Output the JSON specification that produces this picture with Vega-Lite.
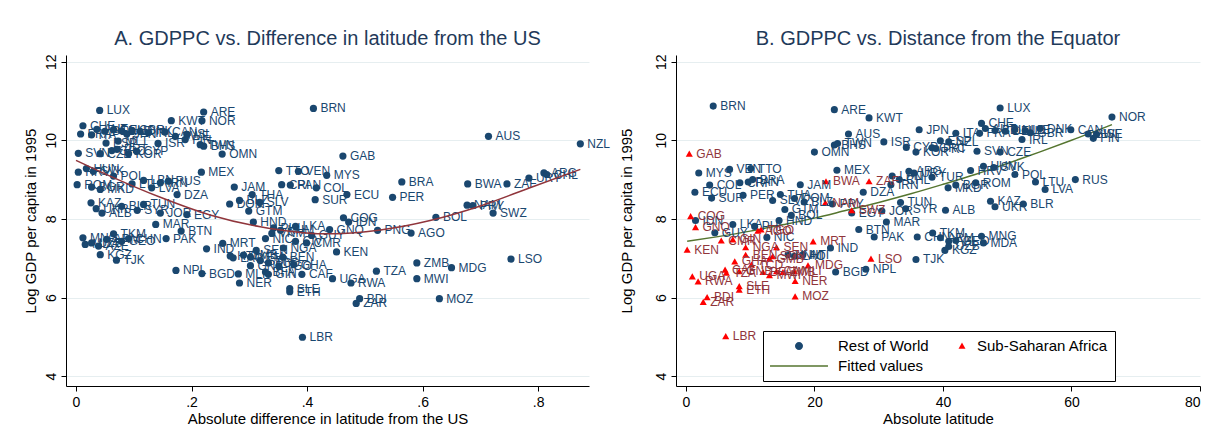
{
  "$schema": "https://vega.github.io/schema/vega-lite/v6.json",
  "background": "white",
  "padding": {"left": 23, "top": 28, "right": 5, "bottom": 5},
  "bounds": "flush",
  "spacing": 87,
  "config": {
    "font": "Liberation Sans",
    "view": {"stroke": null},
    "axis": {
      "domainColor": "black", "tickColor": "black", "labelColor": "black", "titleColor": "black",
      "labelFont": "Liberation Sans", "titleFont": "Liberation Sans",
      "labelFontSize": 14, "titleFontSize": 15, "titleFontWeight": "normal",
      "tickSize": 5, "gridColor": "#e6eef0", "gridWidth": 1
    },
    "title": {"fontSize": 20, "fontWeight": "normal", "color": "#1f3a5a", "offset": 5, "font": "Liberation Sans"}
  },
  "datasets": {
    "left": [
      {"c":"LUX","x":0.041,"y":10.76},{"c":"CHE","x":0.012,"y":10.37},{"c":"KWT","x":0.165,"y":10.50},
      {"c":"ARE","x":0.221,"y":10.72},{"c":"NOR","x":0.218,"y":10.50},{"c":"BRN","x":0.411,"y":10.81},
      {"c":"AUS","x":0.714,"y":10.10},{"c":"NZL","x":0.873,"y":9.91},{"c":"CAN","x":0.154,"y":10.21},
      {"c":"FRA","x":0.008,"y":10.16},{"c":"ITA","x":0.027,"y":10.14},{"c":"AUT","x":0.036,"y":10.28},
      {"c":"BEL","x":0.050,"y":10.23},{"c":"DEU","x":0.065,"y":10.27},{"c":"NLD","x":0.079,"y":10.24},
      {"c":"JPN","x":0.088,"y":10.16},{"c":"GBR","x":0.097,"y":10.25},{"c":"DNK","x":0.111,"y":10.23},
      {"c":"IRL","x":0.125,"y":10.19},{"c":"ESP","x":0.052,"y":9.93},{"c":"MLT","x":0.073,"y":9.98},
      {"c":"ISR","x":0.142,"y":9.92},{"c":"GRC","x":0.062,"y":9.74},{"c":"PRT","x":0.071,"y":9.77},
      {"c":"SVN","x":0.004,"y":9.67},{"c":"CZE","x":0.042,"y":9.66},{"c":"KOR","x":0.091,"y":9.66},
      {"c":"CYP","x":0.105,"y":9.72},{"c":"SWE","x":0.172,"y":10.10},{"c":"FIN","x":0.189,"y":10.02},
      {"c":"ISL","x":0.192,"y":10.15},{"c":"TWN","x":0.215,"y":9.89},{"c":"BHS","x":0.221,"y":9.85},
      {"c":"OMN","x":0.253,"y":9.65},{"c":"HRV","x":0.004,"y":9.19},{"c":"HUN","x":0.018,"y":9.28},
      {"c":"SVK","x":0.030,"y":9.21},{"c":"POL","x":0.065,"y":9.09},{"c":"ROM","x":0.002,"y":8.87},
      {"c":"BGR","x":0.027,"y":8.81},{"c":"MKD","x":0.042,"y":8.75},{"c":"LTU","x":0.097,"y":8.89},
      {"c":"LBN","x":0.117,"y":8.98},{"c":"LVA","x":0.131,"y":8.79},{"c":"IRN","x":0.146,"y":8.92},
      {"c":"RUS","x":0.160,"y":8.96},{"c":"DZA","x":0.175,"y":8.62},{"c":"KAZ","x":0.026,"y":8.41},
      {"c":"UKR","x":0.035,"y":8.26},{"c":"ALB","x":0.045,"y":8.15},{"c":"BLR","x":0.079,"y":8.32},
      {"c":"SYR","x":0.106,"y":8.22},{"c":"TUN","x":0.117,"y":8.37},{"c":"JOR","x":0.146,"y":8.15},
      {"c":"EGY","x":0.192,"y":8.11},{"c":"MAR","x":0.138,"y":7.86},{"c":"BTN","x":0.182,"y":7.69},
      {"c":"MEX","x":0.217,"y":9.19},{"c":"JAM","x":0.274,"y":8.81},{"c":"THA","x":0.305,"y":8.62},
      {"c":"BLZ","x":0.283,"y":8.47},{"c":"DOM","x":0.266,"y":8.38},{"c":"SLV","x":0.318,"y":8.42},
      {"c":"GTM","x":0.299,"y":8.20},{"c":"HND","x":0.307,"y":7.92},{"c":"TTO","x":0.351,"y":9.23},
      {"c":"VEN","x":0.385,"y":9.21},{"c":"MYS","x":0.434,"y":9.11},{"c":"CRI","x":0.356,"y":8.87},
      {"c":"PAN","x":0.371,"y":8.86},{"c":"COL","x":0.416,"y":8.79},{"c":"SUR","x":0.414,"y":8.49},
      {"c":"ECU","x":0.469,"y":8.62},{"c":"BRA","x":0.564,"y":8.94},{"c":"PER","x":0.548,"y":8.55},
      {"c":"BWA","x":0.678,"y":8.89},{"c":"ZAF","x":0.746,"y":8.89},{"c":"URY","x":0.784,"y":9.04},
      {"c":"ARG","x":0.810,"y":9.17},{"c":"CHL","x":0.815,"y":9.13},{"c":"NAM","x":0.677,"y":8.35},
      {"c":"PRY","x":0.687,"y":8.34},{"c":"SWZ","x":0.722,"y":8.15},{"c":"BOL","x":0.623,"y":8.04},
      {"c":"GAB","x":0.462,"y":9.60},{"c":"COG","x":0.463,"y":8.03},{"c":"IDN","x":0.472,"y":7.92},
      {"c":"LKA","x":0.380,"y":7.81},{"c":"GNQ","x":0.439,"y":7.73},{"c":"PNG","x":0.522,"y":7.71},
      {"c":"AGO","x":0.580,"y":7.64},{"c":"GUY","x":0.408,"y":7.58},{"c":"PHL","x":0.342,"y":7.77},
      {"c":"VNM","x":0.339,"y":7.63},{"c":"KHM","x":0.354,"y":7.71},{"c":"CIV","x":0.380,"y":7.43},
      {"c":"NIC","x":0.328,"y":7.50},{"c":"NGA","x":0.359,"y":7.26},{"c":"CMR","x":0.399,"y":7.39},
      {"c":"KEN","x":0.451,"y":7.16},{"c":"BEN","x":0.358,"y":7.03},{"c":"GHA","x":0.377,"y":6.84},
      {"c":"SEN","x":0.312,"y":7.20},{"c":"MRT","x":0.254,"y":7.38},{"c":"IND","x":0.226,"y":7.24},
      {"c":"HTI","x":0.267,"y":7.06},{"c":"LAO","x":0.272,"y":7.01},{"c":"GMB","x":0.290,"y":7.08},
      {"c":"YEM","x":0.302,"y":7.03},{"c":"SDN","x":0.319,"y":6.94},{"c":"TCD","x":0.333,"y":6.88},
      {"c":"GNB","x":0.302,"y":6.81},{"c":"MLI","x":0.281,"y":6.60},{"c":"BFA","x":0.328,"y":6.65},
      {"c":"GIN","x":0.333,"y":6.59},{"c":"TGO","x":0.351,"y":6.80},{"c":"CAF","x":0.391,"y":6.59},
      {"c":"UGA","x":0.444,"y":6.48},{"c":"NER","x":0.283,"y":6.37},{"c":"RWA","x":0.476,"y":6.37},
      {"c":"TZA","x":0.520,"y":6.67},{"c":"SLE","x":0.370,"y":6.23},{"c":"ETH","x":0.370,"y":6.15},
      {"c":"BDI","x":0.491,"y":5.97},{"c":"ZAR","x":0.485,"y":5.85},{"c":"LBR","x":0.392,"y":4.99},
      {"c":"ZMB","x":0.590,"y":6.88},{"c":"MDG","x":0.650,"y":6.76},{"c":"LSO","x":0.753,"y":6.98},
      {"c":"MWI","x":0.590,"y":6.48},{"c":"MOZ","x":0.629,"y":5.97},{"c":"MNG","x":0.012,"y":7.52},
      {"c":"MDA","x":0.016,"y":7.35},{"c":"UZB","x":0.027,"y":7.39},{"c":"AZE","x":0.039,"y":7.31},
      {"c":"ARM","x":0.053,"y":7.48},{"c":"TKM","x":0.065,"y":7.62},{"c":"GEO","x":0.079,"y":7.43},
      {"c":"CHN","x":0.091,"y":7.50},{"c":"KGZ","x":0.042,"y":7.09},{"c":"TJK","x":0.070,"y":6.95},
      {"c":"PAK","x":0.156,"y":7.50},{"c":"NPL","x":0.173,"y":6.69},{"c":"BGD","x":0.218,"y":6.61}
    ],
    "right": [
      {"c":"BRN","x":4.25,"y":10.87,"g":"Rest of World"},{"c":"ARE","x":23.1,"y":10.78,"g":"Rest of World"},
      {"c":"KWT","x":28.5,"y":10.57,"g":"Rest of World"},{"c":"AUS","x":25.3,"y":10.16,"g":"Rest of World"},
      {"c":"ISR","x":30.8,"y":9.96,"g":"Rest of World"},{"c":"BHS","x":23.1,"y":9.88,"g":"Rest of World"},
      {"c":"TWN","x":23.6,"y":9.92,"g":"Rest of World"},{"c":"OMN","x":20.0,"y":9.70,"g":"Rest of World"},
      {"c":"JPN","x":36.3,"y":10.27,"g":"Rest of World"},{"c":"CYP","x":34.3,"y":9.82,"g":"Rest of World"},
      {"c":"KOR","x":35.8,"y":9.70,"g":"Rest of World"},{"c":"MEX","x":23.5,"y":9.24,"g":"Rest of World"},
      {"c":"VEN","x":6.8,"y":9.26,"g":"Rest of World"},{"c":"TTO","x":10.1,"y":9.28,"g":"Rest of World"},
      {"c":"MYS","x":2.0,"y":9.17,"g":"Rest of World"},{"c":"JAM","x":17.8,"y":8.87,"g":"Rest of World"},
      {"c":"ECU","x":1.4,"y":8.68,"g":"Rest of World"},{"c":"COL","x":3.7,"y":8.86,"g":"Rest of World"},
      {"c":"CRI","x":8.4,"y":8.92,"g":"Rest of World"},{"c":"PAN","x":9.7,"y":8.94,"g":"Rest of World"},
      {"c":"BRA","x":10.4,"y":9.00,"g":"Rest of World"},{"c":"SUR","x":4.0,"y":8.53,"g":"Rest of World"},
      {"c":"PER","x":8.9,"y":8.60,"g":"Rest of World"},{"c":"THA","x":14.7,"y":8.62,"g":"Rest of World"},
      {"c":"SLV","x":13.5,"y":8.47,"g":"Rest of World"},{"c":"DOM","x":16.9,"y":8.52,"g":"Rest of World"},
      {"c":"BLZ","x":18.4,"y":8.43,"g":"Rest of World"},{"c":"GTM","x":15.4,"y":8.24,"g":"Rest of World"},
      {"c":"BOL","x":16.4,"y":8.09,"g":"Rest of World"},{"c":"HND","x":14.5,"y":7.96,"g":"Rest of World"},
      {"c":"PRY","x":22.8,"y":8.38,"g":"Rest of World"},{"c":"DZA","x":27.6,"y":8.68,"g":"Rest of World"},
      {"c":"EGY","x":25.8,"y":8.15,"g":"Rest of World"},{"c":"JOR","x":30.5,"y":8.20,"g":"Rest of World"},
      {"c":"MAR","x":31.2,"y":7.92,"g":"Rest of World"},{"c":"BTN","x":26.9,"y":7.73,"g":"Rest of World"},
      {"c":"PAK","x":29.3,"y":7.54,"g":"Rest of World"},{"c":"IDN","x":1.5,"y":7.96,"g":"Rest of World"},
      {"c":"LKA","x":7.3,"y":7.86,"g":"Rest of World"},{"c":"PHL","x":10.7,"y":7.81,"g":"Rest of World"},
      {"c":"GUY","x":4.5,"y":7.65,"g":"Rest of World"},{"c":"NIC","x":12.6,"y":7.53,"g":"Rest of World"},
      {"c":"IND","x":22.5,"y":7.26,"g":"Rest of World"},{"c":"BGD","x":23.3,"y":6.65,"g":"Rest of World"},
      {"c":"NPL","x":28.0,"y":6.72,"g":"Rest of World"},{"c":"LUX","x":48.9,"y":10.82,"g":"Rest of World"},
      {"c":"CHE","x":46.0,"y":10.43,"g":"Rest of World"},{"c":"NOR","x":66.3,"y":10.59,"g":"Rest of World"},
      {"c":"ESP","x":39.6,"y":9.99,"g":"Rest of World"},{"c":"NZL","x":40.9,"y":9.96,"g":"Rest of World"},
      {"c":"GRC","x":38.3,"y":9.81,"g":"Rest of World"},{"c":"PRT","x":38.9,"y":9.79,"g":"Rest of World"},
      {"c":"ITA","x":42.0,"y":10.18,"g":"Rest of World"},{"c":"FRA","x":45.7,"y":10.18,"g":"Rest of World"},
      {"c":"AUT","x":46.6,"y":10.30,"g":"Rest of World"},{"c":"BEL","x":48.1,"y":10.25,"g":"Rest of World"},
      {"c":"DEU","x":49.7,"y":10.23,"g":"Rest of World"},{"c":"NLD","x":51.2,"y":10.27,"g":"Rest of World"},
      {"c":"LIE","x":52.8,"y":10.25,"g":"Rest of World"},{"c":"GBR","x":53.6,"y":10.19,"g":"Rest of World"},
      {"c":"DNK","x":55.1,"y":10.30,"g":"Rest of World"},{"c":"IRL","x":52.3,"y":10.02,"g":"Rest of World"},
      {"c":"CAN","x":59.9,"y":10.27,"g":"Rest of World"},{"c":"SWE","x":62.6,"y":10.16,"g":"Rest of World"},
      {"c":"FIN","x":63.4,"y":10.05,"g":"Rest of World"},{"c":"ISL","x":63.9,"y":10.15,"g":"Rest of World"},
      {"c":"SVN","x":45.3,"y":9.72,"g":"Rest of World"},{"c":"CZE","x":48.9,"y":9.70,"g":"Rest of World"},
      {"c":"HUN","x":46.3,"y":9.34,"g":"Rest of World"},{"c":"SVK","x":47.9,"y":9.31,"g":"Rest of World"},
      {"c":"HRV","x":44.3,"y":9.23,"g":"Rest of World"},{"c":"POL","x":51.2,"y":9.13,"g":"Rest of World"},
      {"c":"LTU","x":54.4,"y":8.94,"g":"Rest of World"},{"c":"RUS","x":60.6,"y":9.00,"g":"Rest of World"},
      {"c":"LVA","x":55.9,"y":8.75,"g":"Rest of World"},{"c":"ROM","x":45.1,"y":8.92,"g":"Rest of World"},
      {"c":"BGR","x":42.0,"y":8.86,"g":"Rest of World"},{"c":"MKD","x":40.8,"y":8.79,"g":"Rest of World"},
      {"c":"TUR","x":38.3,"y":9.06,"g":"Rest of World"},{"c":"ARG","x":34.7,"y":9.21,"g":"Rest of World"},
      {"c":"URY","x":35.5,"y":9.17,"g":"Rest of World"},{"c":"LBN","x":32.1,"y":9.09,"g":"Rest of World"},
      {"c":"CHL","x":33.2,"y":9.00,"g":"Rest of World"},{"c":"IRN","x":31.9,"y":8.87,"g":"Rest of World"},
      {"c":"TUN","x":33.4,"y":8.42,"g":"Rest of World"},{"c":"SYR","x":34.2,"y":8.26,"g":"Rest of World"},
      {"c":"ALB","x":40.4,"y":8.22,"g":"Rest of World"},{"c":"KAZ","x":47.4,"y":8.45,"g":"Rest of World"},
      {"c":"UKR","x":48.1,"y":8.31,"g":"Rest of World"},{"c":"BLR","x":52.5,"y":8.38,"g":"Rest of World"},
      {"c":"CHN","x":36.0,"y":7.54,"g":"Rest of World"},{"c":"TKM","x":38.4,"y":7.64,"g":"Rest of World"},
      {"c":"ARM","x":39.6,"y":7.52,"g":"Rest of World"},{"c":"AZE","x":40.9,"y":7.43,"g":"Rest of World"},
      {"c":"UZB","x":40.9,"y":7.30,"g":"Rest of World"},{"c":"GEO","x":42.0,"y":7.45,"g":"Rest of World"},
      {"c":"MNG","x":46.0,"y":7.56,"g":"Rest of World"},{"c":"MDA","x":46.3,"y":7.39,"g":"Rest of World"},
      {"c":"KGZ","x":40.3,"y":7.20,"g":"Rest of World"},{"c":"TJK","x":35.8,"y":6.97,"g":"Rest of World"},
      {"c":"VNM","x":15.9,"y":7.09,"g":"Rest of World"},{"c":"LAO","x":16.9,"y":7.05,"g":"Rest of World"},
      {"c":"HTI","x":18.2,"y":7.09,"g":"Rest of World"},
      {"c":"GAB","x":0.53,"y":9.66,"g":"Sub-Saharan Africa"},{"c":"BWA","x":21.8,"y":8.96,"g":"Sub-Saharan Africa"},
      {"c":"ZAF","x":28.5,"y":8.96,"g":"Sub-Saharan Africa"},{"c":"NAM","x":21.7,"y":8.41,"g":"Sub-Saharan Africa"},
      {"c":"SWZ","x":25.8,"y":8.22,"g":"Sub-Saharan Africa"},{"c":"LSO","x":28.8,"y":6.99,"g":"Sub-Saharan Africa"},
      {"c":"COG","x":0.74,"y":8.07,"g":"Sub-Saharan Africa"},{"c":"GNQ","x":1.5,"y":7.79,"g":"Sub-Saharan Africa"},
      {"c":"AGO","x":11.2,"y":7.70,"g":"Sub-Saharan Africa"},{"c":"TGO","x":11.7,"y":7.73,"g":"Sub-Saharan Africa"},
      {"c":"KEN","x":0.2,"y":7.22,"g":"Sub-Saharan Africa"},{"c":"CMR","x":5.5,"y":7.45,"g":"Sub-Saharan Africa"},
      {"c":"GIN","x":7.3,"y":7.48,"g":"Sub-Saharan Africa"},{"c":"NGA","x":9.3,"y":7.28,"g":"Sub-Saharan Africa"},
      {"c":"SEN","x":14.1,"y":7.28,"g":"Sub-Saharan Africa"},{"c":"MRT","x":19.8,"y":7.43,"g":"Sub-Saharan Africa"},
      {"c":"BEN","x":9.3,"y":7.09,"g":"Sub-Saharan Africa"},{"c":"GHA","x":7.6,"y":6.92,"g":"Sub-Saharan Africa"},
      {"c":"TCD","x":10.2,"y":6.84,"g":"Sub-Saharan Africa"},{"c":"GMB","x":13.0,"y":6.99,"g":"Sub-Saharan Africa"},
      {"c":"SDN","x":13.5,"y":7.05,"g":"Sub-Saharan Africa"},{"c":"MDG","x":19.0,"y":6.82,"g":"Sub-Saharan Africa"},
      {"c":"CAF","x":6.1,"y":6.71,"g":"Sub-Saharan Africa"},{"c":"TZA","x":6.3,"y":6.63,"g":"Sub-Saharan Africa"},
      {"c":"GNB","x":8.3,"y":6.67,"g":"Sub-Saharan Africa"},{"c":"BFA","x":12.0,"y":6.65,"g":"Sub-Saharan Africa"},
      {"c":"MWI","x":13.0,"y":6.57,"g":"Sub-Saharan Africa"},{"c":"ZMB","x":15.1,"y":6.65,"g":"Sub-Saharan Africa"},
      {"c":"MLI","x":16.9,"y":6.67,"g":"Sub-Saharan Africa"},{"c":"CIV","x":14.1,"y":6.67,"g":"Sub-Saharan Africa"},
      {"c":"NER","x":17.0,"y":6.42,"g":"Sub-Saharan Africa"},{"c":"UGA","x":1.0,"y":6.54,"g":"Sub-Saharan Africa"},
      {"c":"RWA","x":1.9,"y":6.41,"g":"Sub-Saharan Africa"},{"c":"SLE","x":8.3,"y":6.29,"g":"Sub-Saharan Africa"},
      {"c":"ETH","x":8.3,"y":6.20,"g":"Sub-Saharan Africa"},{"c":"MOZ","x":17.0,"y":6.03,"g":"Sub-Saharan Africa"},
      {"c":"BDI","x":3.3,"y":6.01,"g":"Sub-Saharan Africa"},{"c":"ZAR","x":2.7,"y":5.89,"g":"Sub-Saharan Africa"},
      {"c":"LBR","x":6.2,"y":5.02,"g":"Sub-Saharan Africa"}
    ],
    "lfit": [
      {"x":0.0,"y":9.49},{"x":0.059,"y":9.09},{"x":0.146,"y":8.55},{"x":0.232,"y":8.10},
      {"x":0.319,"y":7.80},{"x":0.43,"y":7.62},{"x":0.527,"y":7.72},{"x":0.613,"y":7.96},
      {"x":0.70,"y":8.33},{"x":0.787,"y":8.80},{"x":0.873,"y":9.26}
    ],
    "rfit": [
      {"x":0.2,"y":7.43},{"x":5,"y":7.55},{"x":10,"y":7.69},{"x":15,"y":7.85},{"x":20,"y":8.02},
      {"x":25,"y":8.22},{"x":30,"y":8.42},{"x":35,"y":8.64},{"x":40,"y":8.88},{"x":45,"y":9.13},
      {"x":50,"y":9.41},{"x":55,"y":9.70},{"x":60,"y":10.00},{"x":66.3,"y":10.40}
    ]
  },
  "hconcat": [
    {
      "width": 523, "height": 331,
      "title": "A. GDPPC vs. Difference in latitude from the US",
      "encoding": {
        "x": {"field": "x", "type": "quantitative",
          "scale": {"domain": [-0.0173, 0.888], "nice": false, "zero": false},
          "axis": {"values": [0, 0.2, 0.4, 0.6, 0.8], "grid": false,
            "labelExpr": "datum.value == 0 ? '0' : replace(format(datum.value, '.1f'), '0.', '.')",
            "title": "Absolute difference in latitude from the US", "labelPadding": 4, "titlePadding": 2}},
        "y": {"field": "y", "type": "quantitative",
          "scale": {"domain": [3.75, 12.17], "nice": false, "zero": false},
          "axis": {"values": [4, 6, 8, 10, 12], "grid": true, "labelAngle": -90, "labelAlign": "center", "labelBaseline": "bottom",
            "title": "Log GDP per capita in 1995", "labelPadding": 3, "titlePadding": 6}}
      },
      "layer": [
        {"data": {"name": "left"}, "mark": {"type": "circle", "size": 52, "opacity": 1, "color": "#1a476f"}},
        {"data": {"name": "left"}, "mark": {"type": "text", "align": "left", "baseline": "middle", "dx": 7, "fontSize": 12, "color": "#1a476f", "font": "Liberation Sans"},
          "encoding": {"text": {"field": "c"}}},
        {"data": {"name": "lfit"}, "mark": {"type": "line", "color": "#90353b", "strokeWidth": 1.5, "interpolate": "monotone"}}
      ]
    },
    {
      "width": 524, "height": 331,
      "title": "B. GDPPC vs. Distance from the Equator",
      "encoding": {
        "x": {"field": "x", "type": "quantitative",
          "scale": {"domain": [-1.54, 80], "nice": false, "zero": false},
          "axis": {"values": [0, 20, 40, 60, 80], "grid": false,
            "title": "Absolute latitude", "labelPadding": 4, "titlePadding": 2}},
        "y": {"field": "y", "type": "quantitative",
          "scale": {"domain": [3.75, 12.17], "nice": false, "zero": false},
          "axis": {"values": [4, 6, 8, 10, 12], "grid": true, "labelAngle": -90, "labelAlign": "center", "labelBaseline": "bottom",
            "title": "Log GDP per capita in 1995", "labelPadding": 3, "titlePadding": 20}}
      },
      "layer": [
        {"data": {"name": "rfit"}, "mark": {"type": "line", "color": "#55752f", "strokeWidth": 1.5, "interpolate": "monotone"}},
        {"data": {"name": "right"}, "mark": {"type": "point", "filled": true, "opacity": 1, "size": 50},
          "encoding": {
            "shape": {"condition": {"test": "datum.g === 'Sub-Saharan Africa'", "value": "triangle-up"}, "value": "circle"},
            "color": {"condition": {"test": "datum.g === 'Sub-Saharan Africa'", "value": "#ff0000"}, "value": "#1a476f"}
          }},
        {"data": {"name": "right"}, "mark": {"type": "text", "align": "left", "baseline": "middle", "dx": 7, "fontSize": 12, "font": "Liberation Sans"},
          "encoding": {"text": {"field": "c"},
            "color": {"condition": {"test": "datum.g === 'Sub-Saharan Africa'", "value": "#90353b"}, "value": "#1a476f"}}},
        {"data": {"name": "right"}, "transform": [{"filter": "false"}],
          "mark": {"type": "point", "filled": true, "opacity": 1},
          "encoding": {
            "color": {"field": "g", "type": "nominal",
              "scale": {"domain": ["Rest of World", "Sub-Saharan Africa", "Fitted values"], "range": ["#1a476f", "#ff0000", "#55752f"]},
              "legend": {"orient": "none", "legendX": 697, "legendY": 276, "columns": 2, "direction": "horizontal", "title": null,
                "labelFontSize": 15, "labelColor": "black", "labelFont": "Liberation Sans", "symbolSize": 196,
                "strokeColor": "black", "fillColor": "white", "padding": 7, "rowPadding": 4, "columnPadding": 4,
                "labelOffset": 31, "symbolOffset": 21, "symbolStrokeWidth": 1.3,
                "encoding": {
                  "symbols": {"stroke": {"condition": {"test": "datum.value === 'Fitted values'", "value": "#55752f"}, "value": "transparent"}, "strokeWidth": {"value": 1.3}},
                  "labels": {"dx": {"condition": {"test": "datum.value === 'Sub-Saharan Africa'", "value": -24}, "value": 0}}
                }}},
            "shape": {"field": "g", "type": "nominal",
              "scale": {"domain": ["Rest of World", "Sub-Saharan Africa", "Fitted values"],
                "range": ["M-0.571,0A0.571,0.571,0,1,0,0.571,0A0.571,0.571,0,1,0,-0.571,0Z", "M0,-0.5L0.5,0.38L-0.5,0.38Z", "M-4.14,0L4.14,0"]},
              "legend": {"orient": "none", "legendX": 697, "legendY": 276, "columns": 2, "direction": "horizontal", "title": null,
                "labelFontSize": 15, "labelColor": "black", "labelFont": "Liberation Sans", "symbolSize": 196,
                "strokeColor": "black", "fillColor": "white", "padding": 7, "rowPadding": 4, "columnPadding": 4,
                "labelOffset": 31, "symbolOffset": 21, "symbolStrokeWidth": 1.3,
                "encoding": {
                  "symbols": {"stroke": {"condition": {"test": "datum.value === 'Fitted values'", "value": "#55752f"}, "value": "transparent"}, "strokeWidth": {"value": 1.3}},
                  "labels": {"dx": {"condition": {"test": "datum.value === 'Sub-Saharan Africa'", "value": -24}, "value": 0}}
                }}}
          }}
      ]
    }
  ]
}
